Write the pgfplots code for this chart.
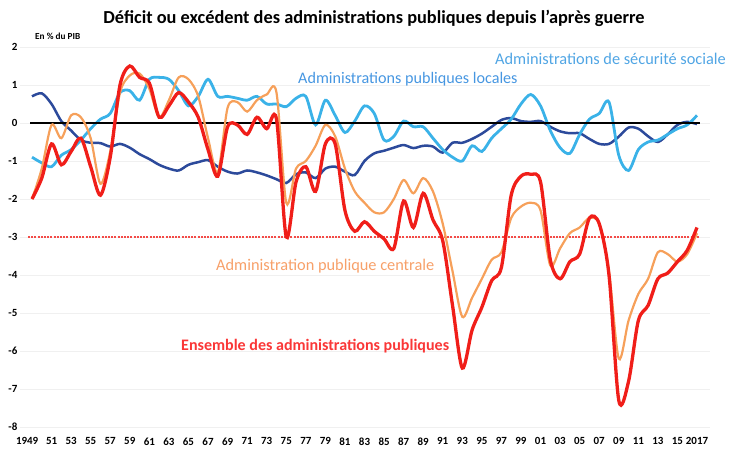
\documentclass[border=0pt]{standalone}
\usepackage{fontspec}
\setmainfont{Carlito}
\usepackage{pgfplots}
\usepackage{pgfplotstable}
\pgfplotsset{compat=1.18}
\definecolor{cRed}{RGB}{240,30,25}
\definecolor{cOrange}{RGB}{246,160,90}
\definecolor{cLight}{RGB}{58,178,232}
\definecolor{cDark}{RGB}{44,74,155}
\definecolor{cLabLoc}{RGB}{70,150,225}
\definecolor{cLabSS}{RGB}{80,165,228}
\definecolor{cLabRed}{RGB}{250,55,55}
\definecolor{cLabOr}{RGB}{247,160,105}

\pgfplotstableread{
year ens cen ss loc
1949 -2.00 -2.00 -0.90 0.70
1950 -1.45 -1.20 -1.05 0.78
1951 -0.55 -0.05 -1.15 0.50
1952 -1.10 -0.40 -0.85 0.05
1953 -0.75 0.20 -0.70 -0.20
1954 -0.40 0.15 -0.45 -0.45
1955 -1.15 -0.40 -0.15 -0.52
1956 -1.90 -1.60 0.10 -0.53
1957 -0.90 -0.75 0.25 -0.62
1958 1.00 0.80 0.80 -0.55
1959 1.50 1.25 0.85 -0.65
1960 1.20 1.30 0.60 -0.82
1961 1.05 0.90 1.15 -0.95
1962 0.15 0.15 1.20 -1.10
1963 0.45 0.60 1.15 -1.20
1964 0.80 1.20 0.85 -1.25
1965 0.55 1.15 0.45 -1.10
1966 0.15 0.70 0.70 -1.03
1967 -0.70 -0.40 1.15 -0.98
1968 -1.40 -1.30 0.70 -1.15
1969 -0.10 0.40 0.70 -1.28
1970 -0.05 0.55 0.65 -1.33
1971 -0.30 0.30 0.60 -1.25
1972 0.15 0.60 0.70 -1.30
1973 -0.15 0.75 0.50 -1.38
1974 0.10 0.80 0.50 -1.48
1975 -3.00 -2.10 0.43 -1.58
1976 -1.55 -1.20 0.65 -1.35
1977 -1.15 -1.00 0.70 -1.30
1978 -1.80 -0.60 -0.05 -1.45
1979 -0.55 -0.05 0.60 -1.20
1980 -0.55 -0.35 0.20 -1.15
1981 -2.30 -1.20 -0.25 -1.28
1982 -2.85 -1.80 0.05 -1.37
1983 -2.60 -2.10 0.45 -1.00
1984 -2.85 -2.35 0.25 -0.80
1985 -3.05 -2.35 -0.45 -0.73
1986 -3.30 -2.00 -0.35 -0.65
1987 -2.05 -1.50 0.05 -0.58
1988 -2.75 -1.85 -0.10 -0.66
1989 -1.85 -1.45 -0.10 -0.60
1990 -2.55 -1.80 -0.40 -0.62
1991 -3.10 -2.65 -0.70 -0.78
1992 -4.80 -3.90 -0.90 -0.52
1993 -6.45 -5.10 -1.00 -0.52
1994 -5.45 -4.60 -0.60 -0.42
1995 -4.85 -4.10 -0.75 -0.28
1996 -4.15 -3.60 -0.40 -0.10
1997 -3.80 -3.40 -0.15 0.08
1998 -1.90 -2.50 0.10 0.13
1999 -1.40 -2.20 0.50 0.05
2000 -1.35 -2.10 0.75 0.03
2001 -1.55 -2.30 0.45 0.05
2002 -3.60 -3.75 -0.20 -0.10
2003 -4.10 -3.30 -0.65 -0.22
2004 -3.65 -2.90 -0.80 -0.27
2005 -3.45 -2.75 -0.30 -0.27
2006 -2.50 -2.50 0.10 -0.42
2007 -2.65 -2.65 0.25 -0.55
2008 -4.00 -3.90 0.55 -0.55
2009 -7.30 -6.20 -0.85 -0.36
2010 -6.80 -5.20 -1.25 -0.12
2011 -5.20 -4.50 -0.70 -0.15
2012 -4.80 -4.10 -0.50 -0.35
2013 -4.10 -3.40 -0.45 -0.50
2014 -3.95 -3.45 -0.30 -0.30
2015 -3.65 -3.65 -0.15 -0.05
2016 -3.35 -3.45 -0.05 0.03
2017 -2.75 -2.90 0.20 -0.03
}\data

\begin{document}
\begin{tikzpicture}[x=1bp,y=1bp]
\path[use as bounding box] (0,0) rectangle (731,450);
\begin{axis}[
  at={(20bp,23bp)}, anchor=south west,
  scale only axis, width=690bp, height=380bp,
  xmin=1947.773, xmax=2018.33, ymin=-8, ymax=2,
  axis lines=left, axis line style={draw=none}, tick style={draw=none},
  ymajorgrids, major grid style={black!6, line width=0.8bp},
  ytick={-8,-7,-6,-5,-4,-3,-2,-1,0,1,2},
  yticklabels={-8,-7,-6,-5,-4,-3,-2,-1,0,1,2},
  xtick={1951,1953,...,2017},
  xticklabels={51,53,55,57,59,61,63,65,67,69,71,73,75,77,79,81,83,85,87,89,91,93,95,97,99,01,03,05,07,09,11,13,15,2017},
  extra x ticks={1948.5}, extra x tick labels={1949},
  extra x tick style={grid=none},
  xticklabel style={font=\bfseries\fontsize{11}{11}\selectfont, yshift=-5bp},
  yticklabel style={font=\bfseries\fontsize{11}{11}\selectfont, xshift=3bp},
  clip=false,
]
\addplot[cRed!80, line width=1.2bp, dash pattern=on 2bp off 1.2bp] coordinates {(1948.6,-3) (2017.3,-3)};
\addplot[cDark, line width=2.5bp, smooth] table[x=year, y=loc] {\data};
\addplot[cLight, line width=2.8bp, smooth] table[x=year, y=ss] {\data};
\addplot[black, line width=2bp] coordinates {(1948.8,0) (2017.3,0)};
\addplot[cOrange, line width=2.2bp, smooth] table[x=year, y=cen] {\data};
\addplot[cRed, line width=3.3bp, smooth] table[x=year, y=ens] {\data};
\end{axis}
\node[font=\bfseries\fontsize{18.4}{18.4}\selectfont] at (374,432) {Déficit ou excédent des administrations publiques depuis l’après guerre};
\node[anchor=west, inner sep=0, font=\bfseries\fontsize{9.3}{9.3}\selectfont] at (35,414) {En \% du PIB};
\node[anchor=west, inner sep=0, text=cLabSS, font=\fontsize{16.4}{16.4}\selectfont] at (495,391) {Administrations de sécurité sociale};
\node[anchor=west, inner sep=0, text=cLabLoc, font=\fontsize{16.2}{16.2}\selectfont] at (298,371) {Administrations publiques locales};
\node[anchor=west, inner sep=0, text=cLabOr, font=\fontsize{16.4}{16.4}\selectfont] at (216,184) {Administration publique centrale};
\node[anchor=west, inner sep=0, text=cLabRed, font=\bfseries\fontsize{16.1}{16.1}\selectfont] at (181,104) {Ensemble des administrations publiques};
\end{tikzpicture}
\end{document}
